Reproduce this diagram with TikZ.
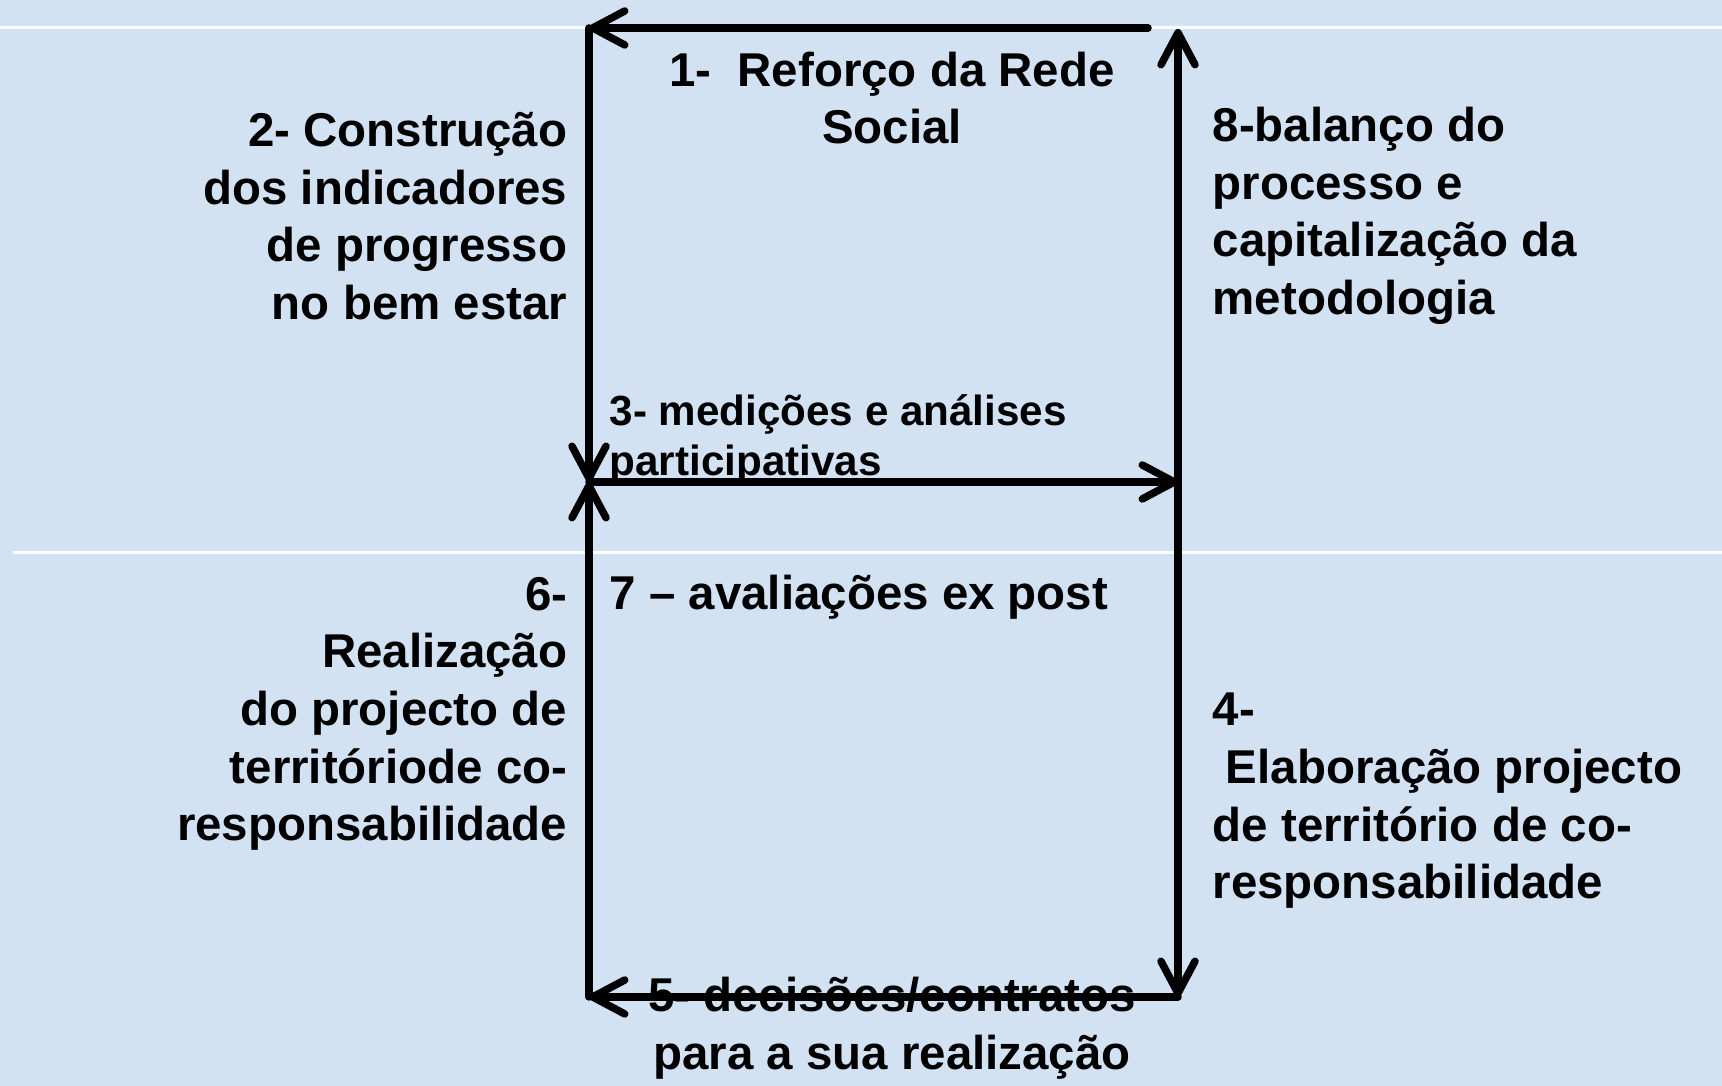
\documentclass[tikz,border=0pt]{standalone}
\usepackage{fontspec}
\setmainfont{Liberation Sans}
\usetikzlibrary{arrows.meta}
\definecolor{slideblue}{RGB}{210,226,242}
\begin{document}
\begin{tikzpicture}[
	flowarrow/.style={line width=0.075cm,line cap=round,line join=round,-{Straight Barb[length=0.32cm,width=0.34cm,round]}},
	stagelabel/.style={rectangle,inner sep=0pt,font=\bfseries\fontsize{13.5pt}{16.4pt}\selectfont}
	]
	
	%background
	\useasboundingbox (0,0) rectangle (17.22,10.86);
	\fill[slideblue] (0,0) rectangle (17.22,10.86);
	\draw[line width=0.03cm,color=white] (0,10.58) -- (17.22,10.58);
	\draw[line width=0.03cm,color=white] (0.13,5.33) -- (17.22,5.33);
	%corners
	\coordinate (start) at (11.48,10.58);
	\coordinate (topleft) at (5.89,10.58);
	\coordinate (topright) at (11.78,10.57);
	\coordinate (midleft) at (5.89,6.04);
	\coordinate (midright) at (11.78,6.04);
	\coordinate (botleft) at (5.89,0.89);
	\coordinate (botright) at (11.78,0.89);
	%labels
	\node[stagelabel,align=center](reforco) at (8.92,9.88) {1-\ \ Reforço da Rede\\Social};
	\node[stagelabel,align=right,anchor=east](construcao) at (5.68,8.70) {2- Construção\\dos indicadores\\de progresso\\no bem estar};
	\node[stagelabel,align=left,anchor=west](balanco) at (12.12,8.70) {8-balanço do\\processo e\\capitalização da\\metodologia};
	\node[stagelabel,align=left,anchor=west,font=\bfseries\fontsize{12pt}{14.2pt}\selectfont](medicoes) at (6.09,6.47) {3- medições e análises\\participativas};
	\node[stagelabel,align=left,anchor=west](avaliacoes) at (6.09,4.89) {7 – avaliações ex post};
	\node[stagelabel,align=right,anchor=east](realizacao) at (5.68,3.72) {6-\\Realização\\do projecto de\\territóriode co-\\responsabilidade};
	\node[stagelabel,align=left,anchor=west](elaboracao) at (12.12,2.85) {4-\\\hspace*{0.28em}Elaboração projecto\\de território de co-\\responsabilidade};
	\node[stagelabel,align=center](decisoes) at (8.92,0.58) {5- decisões/contratos\\para a sua realização};
	%arrows
	\draw[flowarrow] (start) -- (topleft);
	\draw[flowarrow] (topleft) -- (midleft);
	\draw[flowarrow] (midleft) -- (midright);
	\draw[flowarrow] (midright) -- (botright);
	\draw[flowarrow] (botright) -- (botleft);
	\draw[flowarrow] (botleft) -- (midleft);
	\draw[flowarrow] (midright) -- (topright);
\end{tikzpicture}
\end{document}
